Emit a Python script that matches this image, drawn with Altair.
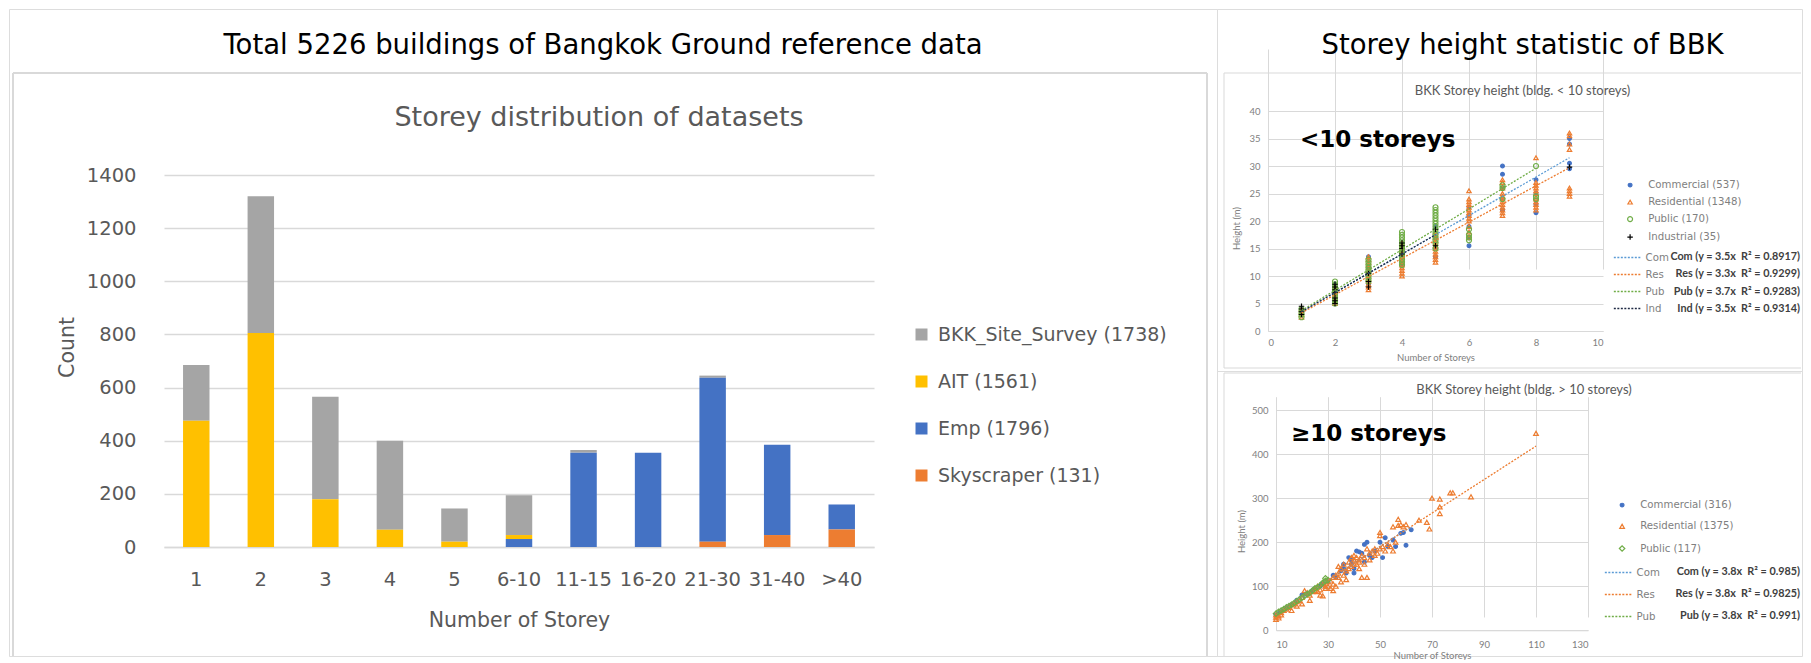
import altair as alt
import pandas as pd

# ---------------- data: storey distribution (left) ----------------
storey_bins = ["1", "2", "3", "4", "5", "6-10", "11-15", "16-20", "21-30", "31-40", ">40"]
bkk_site_survey = [210, 515, 385, 335, 125, 150, 10, 0, 8, 0, 0]
ait = [475, 805, 180, 65, 20, 15, 0, 0, 0, 0, 0]
emp = [0, 0, 0, 0, 0, 30, 355, 355, 617, 340, 94]
skyscraper = [0, 0, 0, 0, 0, 0, 0, 0, 20, 45, 66]
series_names = ["BKK_Site_Survey (1738)", "AIT (1561)", "Emp (1796)", "Skyscraper (131)"]
series_colors = ["#A5A5A5", "#FFC000", "#4472C4", "#ED7D31"]
count_ticks = [0, 200, 400, 600, 800, 1000, 1200, 1400]

# ---------------- data: < 10 storeys (top right) ----------------
small_cats = ["Commercial (537)", "Residential (1348)", "Public (170)", "Industrial (35)"]
# heights (m) listed per storey 1..9
com_lt10 = [[3.0, 3.5, 4.0], [5.5, 6.5, 7.5, 8.5], [8.5, 10.0, 11.5, 13.5], [12.0, 14.0, 16.0],
            [13.5, 15.0, 17.0, 19.0], [15.5, 17.0, 19.0, 21.0, 22.5], [22.0, 24.0, 26.0, 28.5, 30.0],
            [21.5, 23.0, 25.0, 27.5], [29.5, 30.5, 34.0, 35.0]]
res_lt10 = [[2.5, 3.0, 3.5, 4.0], [5.0, 5.5, 6.0, 6.5, 7.0, 7.5, 8.0],
            [7.5, 8.0, 8.5, 9.0, 9.5, 10.0, 10.5, 11.0, 11.5, 12.0, 12.5, 13.0, 13.5],
            [10.0, 10.5, 11.0, 11.5, 12.0, 12.5, 13.0, 13.5, 14.0, 14.5, 15.0, 15.5, 16.0],
            [12.5, 13.0, 13.5, 14.0, 14.5, 15.0, 15.5, 16.0, 16.5, 17.0, 17.5, 18.0],
            [17.0, 18.0, 19.0, 20.0, 20.5, 21.0, 21.5, 22.0, 22.5, 23.0, 23.5, 24.0, 25.5],
            [21.0, 21.5, 22.0, 22.5, 23.0, 23.5, 24.0, 24.5, 25.0, 26.0, 27.0, 27.5],
            [22.0, 22.5, 23.0, 23.5, 24.0, 25.0, 25.5, 26.0, 26.5, 27.0, 31.5],
            [24.5, 25.0, 25.5, 26.0, 33.0, 34.0, 35.5, 36.0]]
pub_lt10 = [[2.5, 3.0, 3.5, 4.0], [5.0, 5.5, 6.0, 6.5, 7.0, 7.5, 8.0, 8.5, 9.0],
            [9.0, 9.5, 10.0, 10.5, 11.0, 11.5, 12.0, 12.5, 13.0],
            [12.0, 12.5, 13.0, 13.5, 14.0, 14.5, 15.0, 15.5, 16.0, 16.5, 17.0, 17.5, 18.0],
            [15.0, 16.0, 16.5, 17.0, 17.5, 18.0, 18.5, 19.0, 19.5, 20.0, 20.5, 21.0, 21.5, 22.0, 22.5],
            [16.5, 17.0, 17.5, 18.5], [24.0, 26.0, 26.5], [24.0, 24.5, 30.0], []]
ind_lt10 = [[3.0, 3.5, 4.0, 4.5], [5.0, 5.5, 6.0, 7.0, 7.5, 8.0, 8.5], [8.0, 9.0, 10.5],
            [14.0, 15.0, 15.5, 16.0], [15.5, 18.5], [], [], [], [29.8]]
small_trend_names = ["Com", "Res", "Pub", "Ind"]
small_trend_x0 = [1, 1, 1, 1]
small_trend_y0 = [3.5, 3.3, 3.7, 3.5]
small_trend_x1 = [9, 9, 8, 5]
small_trend_y1 = [31.5, 29.7, 29.6, 17.5]
small_equations = ["Com (y = 3.5x \u00a0R\u00b2 = 0.8917)", "Res (y = 3.3x \u00a0R\u00b2 = 0.9299)",
                   "Pub (y = 3.7x \u00a0R\u00b2 = 0.9283)", "Ind (y = 3.5x \u00a0R\u00b2 = 0.9314)"]
small_x_ticks = [0, 2, 4, 6, 8, 10]
small_y_ticks = [0, 5, 10, 15, 20, 25, 30, 35, 40]

# ---------------- data: >= 10 storeys (bottom right) ----------------
big_cats = ["Commercial (316)", "Residential (1375)", "Public (117)"]
com_big_storeys = [10, 11, 12, 14, 16, 18, 20, 21, 22, 24, 25, 27, 28, 30, 32, 33, 35, 36, 37, 38, 39, 40,
                   40, 41, 42, 43, 44, 45, 46, 47, 48, 50, 51, 52, 53, 55, 56, 58, 59, 60, 62, 39, 44, 36]
com_big_heights = [35, 38, 42, 50, 58, 68, 80, 82, 84, 90, 95, 100, 105, 110, 125, 120, 135, 140, 130, 165,
                   150, 130, 140, 180, 178, 175, 195, 200, 170, 165, 180, 200, 165, 210, 190, 205, 190, 220,
                   222, 193, 228, 160, 155, 150]
res_big_storeys = [10, 10, 10, 11, 11, 12, 12, 13, 14, 15, 16, 16, 17, 18, 18, 19, 20, 20, 21, 22, 23, 23,
                   24, 25, 25, 26, 26, 27, 27, 28, 28, 29, 30, 30, 31, 32, 32, 32, 33, 33, 34, 34, 35, 35,
                   36, 36, 37, 37, 38, 38, 39, 39, 40, 40, 40, 41, 41, 42, 42, 43, 43, 44, 45, 45, 46, 46,
                   47, 48, 49, 50, 50, 50, 51, 52, 53, 54, 55, 55, 56, 57, 57, 58, 59, 60, 65, 68, 69, 70,
                   73, 73, 73, 77, 78, 85, 110, 44, 48, 31, 29, 34, 42]
res_big_heights = [25, 30, 35, 28, 33, 35, 40, 45, 48, 52, 45, 58, 60, 55, 65, 68, 60, 75, 90, 85, 68, 80,
                   88, 90, 95, 100, 88, 80, 92, 78, 105, 95, 100, 110, 95, 90, 105, 120, 100, 125, 130,
                   145, 110, 140, 125, 150, 115, 135, 140, 155, 145, 165, 150, 160, 170, 150, 165, 155,
                   160, 120, 170, 165, 120, 185, 160, 175, 180, 185, 175, 185, 215, 222, 190, 180, 195,
                   190, 180, 235, 200, 252, 238, 240, 235, 240, 250, 245, 230, 300, 298, 265, 280, 312,
                   312, 303, 447, 150, 170, 112, 100, 120, 140]
pub_big_storeys = [10, 11, 12, 13, 14, 15, 16, 17, 18, 19, 20, 21, 22, 23, 24, 25, 26, 27, 28, 29, 29, 30]
pub_big_heights = [38, 42, 45, 48, 52, 55, 58, 62, 66, 70, 74, 78, 82, 85, 90, 95, 98, 102, 108, 112, 118, 114]
big_trend_names = ["Com", "Res", "Pub"]
big_trend_x0 = [10, 10, 10]
big_trend_y0 = [38, 38, 38]
big_trend_x1 = [62, 110, 30]
big_trend_y1 = [235.6, 418, 114]
big_equations = ["Com (y = 3.8x \u00a0R\u00b2 = 0.985)", "Res (y = 3.8x \u00a0R\u00b2 = 0.9825)",
                 "Pub (y = 3.8x \u00a0R\u00b2 = 0.991)"]
big_x_ticks = [10, 30, 50, 70, 90, 110, 130]
big_y_ticks = [0, 50, 100, 150, 200, 250, 300, 350, 400, 450, 500]

# ---------------- styling constants ----------------
FONT = "Lato"
WIDE = "DejaVu Sans"
GRID = "#D9D9D9"
LABEL = "#595959"
TICKLAB = "#808080"
TREND_COLORS = ["#5B9BD5", "#ED7D31", "#70AD47", "#1F2A44"]
PLUS = "M-1,0H1M0,-1V1"
LONG_DASH = "M-2,0H2"

WL, HL = 1208, 647
WR, HRT, HRB = 585, 362, 285


def text_mark(text, x, y, size, color, weight="normal", align="center", font=FONT):
    return alt.Chart(pd.DataFrame({"t": [text]})).mark_text(
        x=x, y=y, fontSize=size, color=color, fontWeight=weight, align=align,
        baseline="middle", font=font).encode(text="t:N")


def rule_mark(x, x2, y, y2, color=GRID, width=1.0):
    return alt.Chart(pd.DataFrame({"a": [0]})).mark_rule(color=color, strokeWidth=width).encode(
        x=alt.value(x), x2=alt.value(x2), y=alt.value(y), y2=alt.value(y2))


# ---------------- left panel ----------------
rows = []
order_of = {series_names[3]: 0, series_names[2]: 1, series_names[1]: 2, series_names[0]: 3}
for name, vals in zip(series_names, [bkk_site_survey, ait, emp, skyscraper]):
    for b, v in zip(storey_bins, vals):
        rows.append({"bin": b, "series": name, "value": v, "stack_order": order_of[name]})
bar_df = pd.DataFrame(rows)

y0_L, y1_L = 538, 166
xl0, xl1 = 155, 865
bars = alt.Chart(bar_df).mark_bar().encode(
    x=alt.X("bin:N", sort=storey_bins,
            scale=alt.Scale(domain=storey_bins, range=[xl0, xl1], paddingInner=0.59, paddingOuter=0.295),
            axis=alt.Axis(title="Number of Storey", offset=y0_L - HL, labelAngle=0, labelFontSize=19.5,
                          labelFont=WIDE, labelColor=LABEL, labelPadding=23, ticks=False,
                          domainColor=GRID, domainWidth=1.5, grid=False, titleFont=WIDE,
                          titleFontSize=20.5, titleColor=LABEL, titleFontWeight="normal",
                          titleX=(xl0 + xl1) / 2, titleY=73, titleBaseline="middle")),
    y=alt.Y("value:Q", stack="zero",
            scale=alt.Scale(domain=[0, 1400], range=[y0_L, y1_L], nice=False),
            axis=alt.Axis(values=count_ticks, format="d", title="Count", offset=-xl0, grid=True,
                          gridColor=GRID, gridWidth=1.5, domain=False, ticks=False, labelPadding=28,
                          labelFontSize=19.5, labelFont=WIDE, labelColor=LABEL, titleFont=WIDE,
                          titleFontSize=20.5, titleColor=LABEL, titleFontWeight="normal",
                          titleX=58 - xl0, titleY=338, titleBaseline="middle")),
    color=alt.Color("series:N", scale=alt.Scale(domain=series_names, range=series_colors),
                    legend=alt.Legend(orient="none", legendX=903, legendY=316, title=None,
                                      symbolType="square", symbolSize=144, labelFontSize=19,
                                      labelFont=WIDE, labelColor=LABEL, rowPadding=27,
                                      labelOffset=7, padding=0, symbolStrokeWidth=0, labelLimit=500)),
    order=alt.Order("stack_order:Q"),
)

left = alt.layer(
    rule_mark(4, 1198, 64, 64, width=2), rule_mark(4, 4, 64, HL, width=2),
    rule_mark(1198, 1198, 64, HL, width=2),
    text_mark("Total 5226 buildings of Bangkok Ground reference data", 594, 37, 27.5, "#000000", font=WIDE),
    text_mark("Storey distribution of datasets", 590, 109, 27, LABEL, font=WIDE),
    bars,
).properties(width=WL, height=HL)


# ---------------- scatter helper ----------------
def scatter_panel(pts_df, cats, colors, fills, shapes, sizes, trend_df, trend_names, eqs,
                  xdom, xrange_, ydom, yrange_, xticks, yticks, H, title, note, note_xy, title_xy,
                  leg_xy, trend_leg_xy, row_pad, trend_row_pad, eq_rows, eq_right, xtitle_y, ytitle_xy,
                  xlab_pad, frame_top, frame_bottom):
    xs = alt.Scale(domain=xdom, range=xrange_, nice=False, zero=False)
    ys = alt.Scale(domain=ydom, range=yrange_, nice=False)
    xaxis = alt.Axis(values=xticks, format="d", title="Number of Storeys", offset=yrange_[0] - H,
                     grid=True, gridColor=GRID, domainColor=GRID, ticks=False, labelFontSize=9.5,
                     labelFont=FONT, labelColor=TICKLAB, labelPadding=xlab_pad, labelOverlap=False,
                     titleFont=FONT, titleFontSize=9.5, titleColor=TICKLAB, titleFontWeight="normal",
                     titleY=xtitle_y, titleBaseline="middle")
    yaxis = alt.Axis(values=yticks, format="d", title="Height (m)", offset=-xrange_[0], grid=True,
                     gridColor=GRID, domainColor=GRID, ticks=False, labelFontSize=9.5, labelFont=FONT,
                     labelColor=TICKLAB, labelPadding=8, labelOverlap=False, titleFont=FONT,
                     titleFontSize=9.5, titleColor=TICKLAB, titleFontWeight="normal",
                     titleX=ytitle_xy[0], titleY=ytitle_xy[1], titleBaseline="middle")
    leg = dict(orient="none", legendX=leg_xy[0], legendY=leg_xy[1], title=None, labelFontSize=10.2,
               labelFont=WIDE, labelColor=TICKLAB, rowPadding=row_pad, padding=0, labelOffset=13,
               symbolStrokeWidth=1.2, labelLimit=300)
    points = alt.Chart(pts_df).mark_point(filled=False, strokeWidth=1.2, opacity=1).encode(
        x=alt.X("storey:Q", scale=xs, axis=xaxis),
        y=alt.Y("height:Q", scale=ys, axis=yaxis),
        color=alt.Color("cat:N", scale=alt.Scale(domain=cats, range=colors), legend=alt.Legend(**leg)),
        fill=alt.Fill("cat:N", scale=alt.Scale(domain=cats, range=fills), legend=alt.Legend(**leg)),
        shape=alt.Shape("cat:N", scale=alt.Scale(domain=cats, range=shapes), legend=alt.Legend(**leg)),
        size=alt.Size("cat:N", scale=alt.Scale(domain=cats, range=sizes), legend=alt.Legend(**leg)),
    )
    trends = alt.Chart(trend_df).mark_rule(strokeDash=[2, 1.5], strokeWidth=1.3).encode(
        x=alt.X("x0:Q", title="Number of Storeys"), y=alt.Y("y0:Q", title="Height (m)"),
        x2="x1:Q", y2="y1:Q",
        stroke=alt.Stroke("trend:N",
                          scale=alt.Scale(domain=trend_names, range=TREND_COLORS[:len(trend_names)]),
                          legend=alt.Legend(orient="none", legendX=trend_leg_xy[0], legendY=trend_leg_xy[1],
                                            title=None, symbolType=LONG_DASH, symbolDash=[2, 1.5],
                                            symbolSize=176, symbolStrokeWidth=1.3, labelFontSize=10.2,
                                            labelFont=WIDE, labelColor=TICKLAB, rowPadding=trend_row_pad,
                                            padding=0, labelOffset=11)),
    )
    layers = [rule_mark(7, WR - 1, frame_top, frame_top), rule_mark(7, 7, frame_top, frame_bottom)]
    if frame_bottom < H:
        layers.append(rule_mark(7, WR - 1, frame_bottom, frame_bottom))
    layers += [
        text_mark(title, title_xy[0], title_xy[1], 13, LABEL),
        text_mark(note, note_xy[0], note_xy[1], 23, "#000000", weight="bold", align="left", font=WIDE),
        points, trends,
    ]
    for eq, yy in zip(eqs, eq_rows):
        layers.append(text_mark(eq, eq_right, yy, 10.8, "#404040", weight="bold", align="right"))
    return alt.layer(*layers).properties(width=WR, height=H)


def make_points(cats, series_x, series_y):
    rows = []
    for c, xs_, ys_ in zip(cats, series_x, series_y):
        for xv, yv in zip(xs_, ys_):
            rows.append({"cat": c, "storey": xv, "height": yv})
    return pd.DataFrame(rows)


def per_storey(lists):
    xs_, ys_ = [], []
    for i, hs in enumerate(lists):
        for h in hs:
            xs_.append(i + 1)
            ys_.append(h)
    return xs_, ys_


sx, sy = zip(*[per_storey(l) for l in [com_lt10, res_lt10, pub_lt10, ind_lt10]])
small_pts = make_points(small_cats, sx, sy)
small_trend = pd.DataFrame({"trend": small_trend_names, "x0": small_trend_x0, "y0": small_trend_y0,
                            "x1": small_trend_x1, "y1": small_trend_y1})

top = scatter_panel(
    small_pts, small_cats, ["#4472C4", "#ED7D31", "#70AD47", "#000000"],
    ["#4472C4", "transparent", "transparent", "transparent"], ["circle", "triangle-up", "circle", PLUS],
    [14, 30, 20, 30], small_trend, small_trend_names, small_equations,
    [0, 10], [51, 386], [0, 40], [322, 102], small_x_ticks, small_y_ticks, HRT,
    "BKK Storey height (bldg. < 10 storeys)", "<10 storeys", (83, 131), (305.5, 82),
    (408, 171), (402.6, 241), 6, 4, [247.7, 265.3, 283, 299.7], 583, 26.7, (-32, 219), 6.5,
    64, 359)

big_pts = make_points(big_cats, [com_big_storeys, res_big_storeys, pub_big_storeys],
                      [com_big_heights, res_big_heights, pub_big_heights])
big_trend = pd.DataFrame({"trend": big_trend_names, "x0": big_trend_x0, "y0": big_trend_y0,
                          "x1": big_trend_x1, "y1": big_trend_y1})

bottom = scatter_panel(
    big_pts, big_cats, ["#4472C4", "#ED7D31", "#70AD47"],
    ["#4472C4", "transparent", "transparent"], ["circle", "triangle-up", "diamond"],
    [14, 30, 14], big_trend, big_trend_names, big_equations,
    [10, 130], [59, 371], [0, 500], [259.3, 39], big_x_ticks, big_y_ticks, HRB,
    "BKK Storey height (bldg. > 10 storeys)", "\u226510 storeys", (74, 63.3), (307, 19.3),
    (400, 129), (393.6, 194), 10.2, 9, [200.7, 222.7, 245], 583, 24.7, (-35, 160), 9,
    2, HRB)

right = alt.vconcat(
    alt.layer(top, text_mark("Storey height statistic of BBK", 305.5, 37, 27.5, "#000000", font=WIDE)),
    bottom, spacing=0, bounds="flush",
).resolve_scale(color="independent", fill="independent", shape="independent", size="independent",
                stroke="independent")

chart = alt.hconcat(left, right, spacing=0, bounds="flush", padding=0).resolve_scale(
    color="independent", fill="independent", shape="independent", size="independent",
    stroke="independent").configure_view(strokeWidth=0).configure(background="white")

chart.save("out.html", embed_options={"renderer": "svg", "actions": False})
